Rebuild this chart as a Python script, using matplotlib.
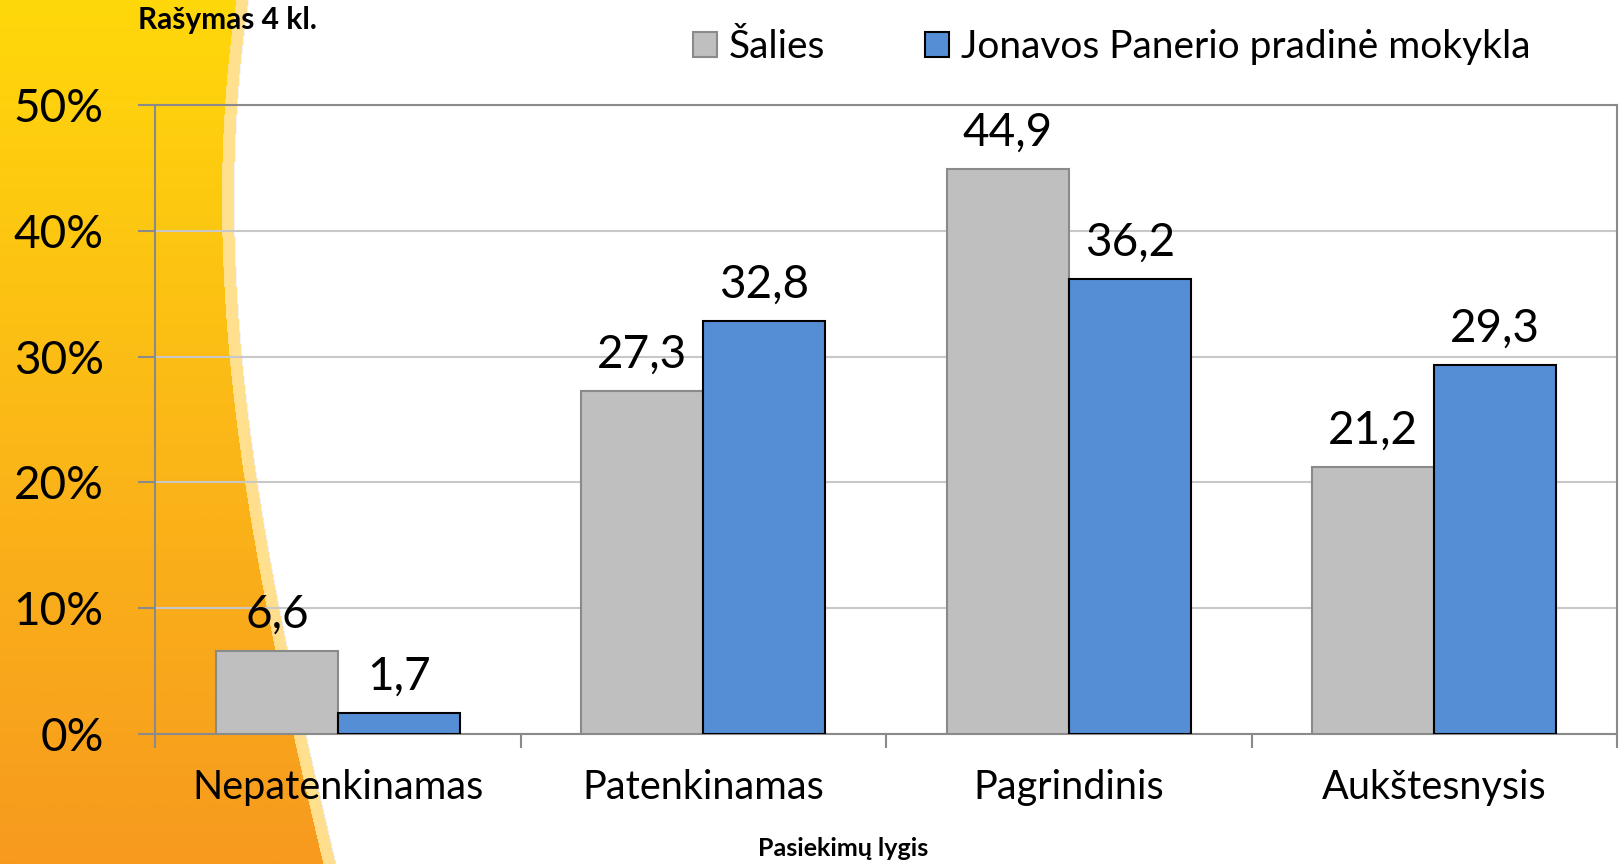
import numpy as np
import matplotlib
matplotlib.use('Agg')
import matplotlib.pyplot as plt
from matplotlib.patches import Patch
from matplotlib.colors import LinearSegmentedColormap, to_rgba

plt.rcParams['font.family'] = ['Lato', 'DejaVu Sans']

categories = ["Nepatenkinamas", "Patenkinamas", "Pagrindinis", "Aukštesnysis"]
series_names = ["Šalies", "Jonavos Panerio pradinė mokykla"]
salies = [6.6, 27.3, 44.9, 21.2]
mokykla = [1.7, 32.8, 36.2, 29.3]
yticks = [0, 10, 20, 30, 40, 50]
ytick_labels = ["0%", "10%", "20%", "30%", "40%", "50%"]
title = "Rašymas 4 kl."
xlabel = "Pasiekimų lygis"

W, H = 1619, 864
fig = plt.figure(figsize=(W / 100, H / 100), dpi=100)
fig.patch.set_facecolor('white')

# ---- decorative background (orange swoosh on the left) ----
bg = fig.add_axes([0, 0, 1, 1], zorder=0)
bg.axis('off')
cy = np.array([0, 110, 220, 331, 441, 551, 661, 771, 864])
cx = np.array([235, 227, 223, 227, 237, 255, 280, 303, 322])
coef = np.polyfit(cy, cx, 3)
rows = np.arange(H) + 0.5
edge = np.polyval(coef, rows)
cmap = LinearSegmentedColormap.from_list('o', ['#FFD80A', '#FBB817', '#F79A1F'])
grad_cols = cmap(rows / H)
img = np.zeros((H, W, 4))
cols = np.arange(W) + 0.5
xx = cols[None, :]
orange_mask = xx < edge[:, None]
stripe_mask = (xx >= edge[:, None]) & (xx < edge[:, None] + 12)
img[orange_mask] = np.broadcast_to(grad_cols[:, None, :], (H, W, 4))[orange_mask]
img[stripe_mask] = to_rgba('#FFE08E')
bg.imshow(img, extent=(0, W, H, 0), aspect='auto', interpolation='antialiased')
bg.set_xlim(0, W)
bg.set_ylim(H, 0)

# ---- main chart ----
ax = fig.add_axes([155 / W, (H - 734) / H, (1617 - 155) / W, (734 - 105) / H], zorder=1)
ax.patch.set_alpha(0)
x = np.arange(len(categories))
w = 1 / 3
b1 = ax.bar(x - w / 2, salies, w, color='#BFBFBF', edgecolor='#8A8A8A', linewidth=1.5, zorder=3)
b2 = ax.bar(x + w / 2, mokykla, w, color='#558ED5', edgecolor='black', linewidth=1.5, zorder=3)
ax.set_xlim(-0.5, len(categories) - 0.5)
ax.set_ylim(0, 50)
ax.set_yticks(yticks)
ax.set_yticklabels(ytick_labels, fontsize=33)
ax.yaxis.grid(True, color='#C8C8C8', linewidth=1.5)
ax.set_axisbelow(True)
ax.set_xticks(np.arange(-0.5, len(categories), 1))
ax.set_xticklabels([])
ax.set_xticks(x, minor=True)
ax.set_xticklabels(categories, minor=True, fontsize=28.5)
ax.tick_params(axis='x', which='major', length=10, width=1.5, color='#8A8A8A')
ax.tick_params(axis='x', which='minor', length=0, pad=25)
ax.tick_params(axis='y', length=12, width=1.5, color='#8A8A8A', pad=25)
for s in ax.spines.values():
    s.set_color('#8A8A8A')
    s.set_linewidth(1.5)

fmt = lambda vals: [f"{v:.1f}".replace('.', ',') for v in vals]
ax.bar_label(b1, labels=fmt(salies), padding=11, fontsize=33)
ax.bar_label(b2, labels=fmt(mokykla), padding=11, fontsize=33)

fig.text(138 / W, 1 - 20 / H, title, fontsize=21.5, fontweight='bold', va='center', ha='left')
fig.text(843 / W, 1 - 848 / H, xlabel, fontsize=18, fontweight='bold', va='center', ha='center')

handles = [Patch(facecolor='#BFBFBF', edgecolor='#8A8A8A', linewidth=1.5),
           Patch(facecolor='#558ED5', edgecolor='black', linewidth=1.5)]
fig.legend(handles, series_names, loc='center left', bbox_to_anchor=(693 / W, 1 - 47 / H),
           ncol=2, frameon=False, fontsize=28, handlelength=0.62, handleheight=0.62,
           handletextpad=0.31, columnspacing=2.55, borderpad=0, borderaxespad=0)

fig.savefig('out.png', dpi=100)
